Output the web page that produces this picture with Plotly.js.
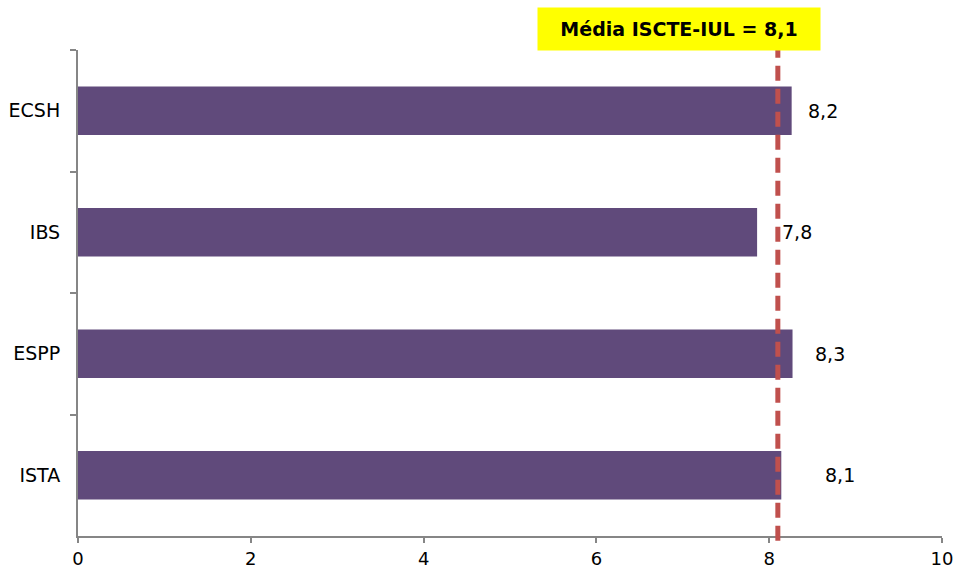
<!DOCTYPE html>
<html>
<head>
<meta charset="utf-8">
<script src="https://cdn.plot.ly/plotly-3.0.1.min.js"></script>
<style>body{margin:0;background:#fff}</style>
</head>
<body>
<div id="chart" style="width:957px;height:569px"></div>
<script>
// schools, top to bottom
var schools = ["ECSH", "IBS", "ESPP", "ISTA"];
var scores = [8.26, 7.86, 8.27, 8.14];
var scoreLabels = ["8,2", "7,8", "8,3", "8,1"];
// labels were nudged by hand in the original
var labelShift = [16, 25, 22, 44];

var meanValue = 8.1;
var meanText = "Média ISCTE-IUL = 8,1";

var xTicks = [0, 2, 4, 6, 8, 10];

var bars = {
    type: "bar",
    orientation: "h",
    y: schools,
    x: scores,
    width: 0.4,
    marker: {color: "#604A7B"},
    hoverinfo: "x+y"
};

var labels = schools.map((s, i) => ({
    x: scores[i], y: s, xref: "x", yref: "y",
    text: scoreLabels[i], showarrow: false,
    xanchor: "left", xshift: labelShift[i] - 2,
    font: {size: 19, color: "#000"}
}));

labels.push({
    xref: "paper", yref: "paper", x: 0.6956, y: 1.043,
    xanchor: "center", yanchor: "middle",
    text: "<b>" + meanText + "</b>", showarrow: false,
    bgcolor: "#FFFF00", width: 280, height: 40,
    font: {size: 19, color: "#000"}
});

var layout = {
    width: 957, height: 569,
    margin: {l: 78, r: 15, t: 50, b: 33},
    paper_bgcolor: "#fff", plot_bgcolor: "#fff",
    font: {family: "Verdana, 'DejaVu Sans', sans-serif", size: 19, color: "#000"},
    showlegend: false,
    xaxis: {
        range: [0, 10], tickvals: xTicks, ticktext: xTicks.map(String),
        tickfont: {size: 18},
        showgrid: false, zeroline: false,
        showline: true, linecolor: "#868686", linewidth: 2,
        ticks: "outside", ticklen: 5, tickcolor: "#868686", tickwidth: 2,
        ticklabelstandoff: 0
    },
    yaxis: {
        autorange: "reversed", type: "category",
        showgrid: false, zeroline: false,
        showline: true, linecolor: "#868686", linewidth: 2,
        ticks: "outside", tickson: "boundaries", ticklen: 6,
        tickcolor: "#868686", tickwidth: 2, ticklabelstandoff: 12
    },
    shapes: [{
        type: "line", xref: "x", yref: "paper",
        x0: meanValue, x1: meanValue, y0: -0.01, y1: 1.06,
        line: {color: "#C0504D", width: 5, dash: "15px,8px"}
    }],
    annotations: labels
};

Plotly.newPlot("chart", [bars], layout, {displayModeBar: false});
</script>
</body>
</html>
